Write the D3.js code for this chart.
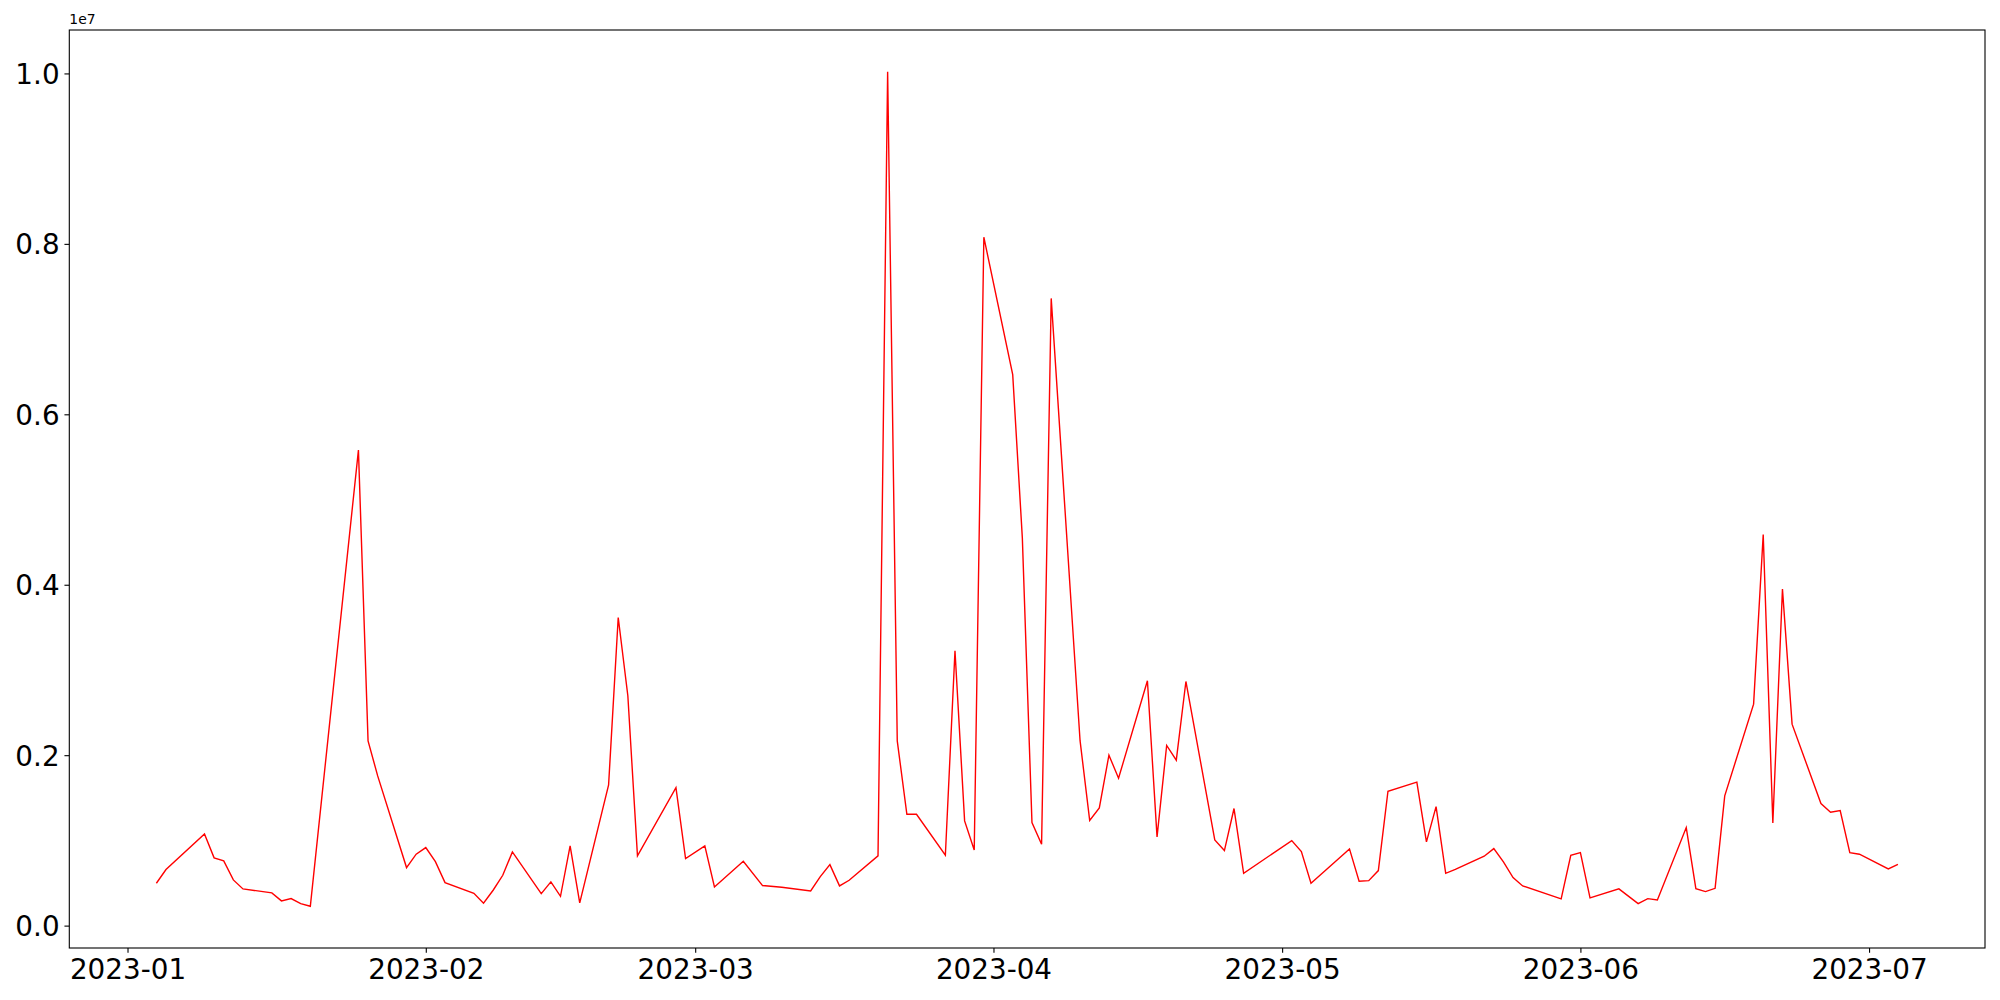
<!DOCTYPE html>
<html>
<head>
<meta charset="utf-8">
<script src="https://cdn.jsdelivr.net/npm/d3@7"></script>
<style>
  html, body { margin: 0; padding: 0; background: #fff; }
  svg { display: block; }
  text { font-family: "DejaVu Sans", sans-serif; fill: #000; }
</style>
</head>
<body>
<svg id="chart" width="2000" height="1000"></svg>
<script>
// ---- data ----
const dates = [
  "2023-01-04","2023-01-05","2023-01-09","2023-01-10","2023-01-11","2023-01-12","2023-01-13",
  "2023-01-16","2023-01-17","2023-01-18","2023-01-19","2023-01-20","2023-01-25","2023-01-26",
  "2023-01-27","2023-01-30","2023-01-31","2023-02-01","2023-02-02","2023-02-03","2023-02-06",
  "2023-02-07","2023-02-08","2023-02-09","2023-02-10","2023-02-13","2023-02-14","2023-02-15",
  "2023-02-16","2023-02-17","2023-02-20","2023-02-21","2023-02-22","2023-02-23","2023-02-27",
  "2023-02-28","2023-03-02","2023-03-03","2023-03-06","2023-03-08","2023-03-10","2023-03-13",
  "2023-03-14","2023-03-15","2023-03-16","2023-03-17","2023-03-20","2023-03-21","2023-03-22",
  "2023-03-23","2023-03-24","2023-03-27","2023-03-28","2023-03-29","2023-03-30","2023-03-31",
  "2023-04-03","2023-04-04","2023-04-05","2023-04-06","2023-04-07","2023-04-10","2023-04-11",
  "2023-04-12","2023-04-13","2023-04-14","2023-04-17","2023-04-18","2023-04-19","2023-04-20",
  "2023-04-21","2023-04-24","2023-04-25","2023-04-26","2023-04-27","2023-05-02","2023-05-03",
  "2023-05-04","2023-05-08","2023-05-09","2023-05-10","2023-05-11","2023-05-12","2023-05-15",
  "2023-05-16","2023-05-17","2023-05-18","2023-05-19","2023-05-22","2023-05-23","2023-05-24",
  "2023-05-25","2023-05-26","2023-05-30","2023-05-31","2023-06-01","2023-06-02","2023-06-05",
  "2023-06-07","2023-06-08","2023-06-09","2023-06-12","2023-06-13","2023-06-14","2023-06-15",
  "2023-06-16","2023-06-19","2023-06-20","2023-06-21","2023-06-22","2023-06-23","2023-06-26",
  "2023-06-27","2023-06-28","2023-06-29","2023-06-30","2023-07-03","2023-07-04"
];
const values = [
  497000, 658000, 1076000, 795000, 759000, 536000, 431000,
  384000, 290000, 317000, 258000, 227000, 5580000, 2168000,
  1757000, 681000, 838000, 916000, 751000, 505000, 380000,
  262000, 415000, 591000, 865000, 376000, 513000, 344000,
  935000, 266000, 1652000, 3616000, 2697000, 818000, 1620000,
  787000, 935000, 454000, 755000, 470000, 450000, 407000,
  575000, 716000, 466000, 532000, 818000, 10020000, 2168000,
  1307000, 1307000, 826000, 3225000, 1229000, 888000, 8078000,
  6466000, 4550000, 1209000, 955000, 7360000, 2170000, 1233000,
  1382000, 2000000, 1730000, 2873000, 1041000, 2114000, 1941000,
  2865000, 1006000, 881000, 1374000, 614000, 998000, 869000,
  497000, 900000, 521000, 528000, 646000, 1577000, 1683000,
  982000, 1397000, 614000, 661000, 814000, 904000, 748000,
  564000, 466000, 313000, 826000, 857000, 325000, 431000,
  258000, 317000, 301000, 1151000, 434000, 399000, 438000,
  1523000, 2599000, 4590000, 1205000, 3949000, 2364000, 1432000,
  1331000, 1350000, 857000, 838000, 665000, 720000
];
const xTickLabels = ["2023-01","2023-02","2023-03","2023-04","2023-05","2023-06","2023-07"];
const yTickValues = [0, 2000000, 4000000, 6000000, 8000000, 10000000];
const yTickLabels = ["0.0","0.2","0.4","0.6","0.8","1.0"];
const offsetLabel = "1e7";

// ---- layout ----
const W = 2000, H = 1000;
const plot = { left: 69.3, right: 1985, top: 30, bottom: 948 };
const parse = d3.utcParse("%Y-%m-%d");
const parseMonth = d3.utcParse("%Y-%m");
const data = dates.map((d, i) => ({ date: parse(d), value: values[i] }));

const xExt = d3.extent(data, d => +d.date);
const xPad = (xExt[1] - xExt[0]) * 0.05;
const x = d3.scaleUtc()
  .domain([new Date(xExt[0] - xPad), new Date(xExt[1] + xPad)])
  .range([plot.left, plot.right]);

const yExt = d3.extent(values);
const yPad = (yExt[1] - yExt[0]) * 0.05;
const y = d3.scaleLinear()
  .domain([yExt[0] - yPad, yExt[1] + yPad])
  .range([plot.bottom, plot.top]);

const svg = d3.select("#chart");
svg.append("rect").attr("width", W).attr("height", H).attr("fill", "#fff");

const clip = svg.append("clipPath").attr("id", "plotclip")
  .append("rect")
  .attr("x", plot.left).attr("y", plot.top)
  .attr("width", plot.right - plot.left).attr("height", plot.bottom - plot.top);

// line
const line = d3.line().x(d => x(d.date)).y(d => y(d.value));
svg.append("path")
  .datum(data)
  .attr("clip-path", "url(#plotclip)")
  .attr("fill", "none")
  .attr("stroke", "#ff0000")
  .attr("stroke-width", 1.4)
  .attr("stroke-linejoin", "miter")
  .attr("d", line);

// axes
const tickLen = 4.86, tickPad = 4.86, fontPx = 27.8;
const xTicks = xTickLabels.map(s => parseMonth(s));
const xAxis = d3.axisBottom(x)
  .tickValues(xTicks)
  .tickFormat((d, i) => xTickLabels[i])
  .tickSize(tickLen)
  .tickPadding(tickPad)
  .tickSizeOuter(0);
const gx = svg.append("g").attr("transform", `translate(0,${plot.bottom})`).call(xAxis);
gx.select(".domain").remove();
gx.selectAll(".tick line").attr("stroke", "#000").attr("stroke-width", 1.1);
gx.selectAll(".tick text")
  .attr("font-family", "DejaVu Sans")
  .attr("font-size", fontPx)
  .attr("fill", "#000")
  .attr("dy", null)
  .attr("y", tickLen + tickPad + 0.76 * fontPx);

const yAxis = d3.axisLeft(y)
  .tickValues(yTickValues)
  .tickFormat((d, i) => yTickLabels[i])
  .tickSize(tickLen)
  .tickPadding(tickPad)
  .tickSizeOuter(0);
const gy = svg.append("g").attr("transform", `translate(${plot.left},0)`).call(yAxis);
gy.select(".domain").remove();
gy.selectAll(".tick line").attr("stroke", "#000").attr("stroke-width", 1.1);
gy.selectAll(".tick text")
  .attr("font-family", "DejaVu Sans")
  .attr("font-size", fontPx)
  .attr("fill", "#000")
  .attr("dy", "0.36em");

// spines
svg.append("rect")
  .attr("x", plot.left).attr("y", plot.top)
  .attr("width", plot.right - plot.left).attr("height", plot.bottom - plot.top)
  .attr("fill", "none").attr("stroke", "#000").attr("stroke-width", 1.1);

// offset text
svg.append("text")
  .attr("x", plot.left)
  .attr("y", plot.top - 6)
  .attr("font-size", 13.9)
  .attr("font-family", "DejaVu Sans")
  .text(offsetLabel);
</script>
</body>
</html>
